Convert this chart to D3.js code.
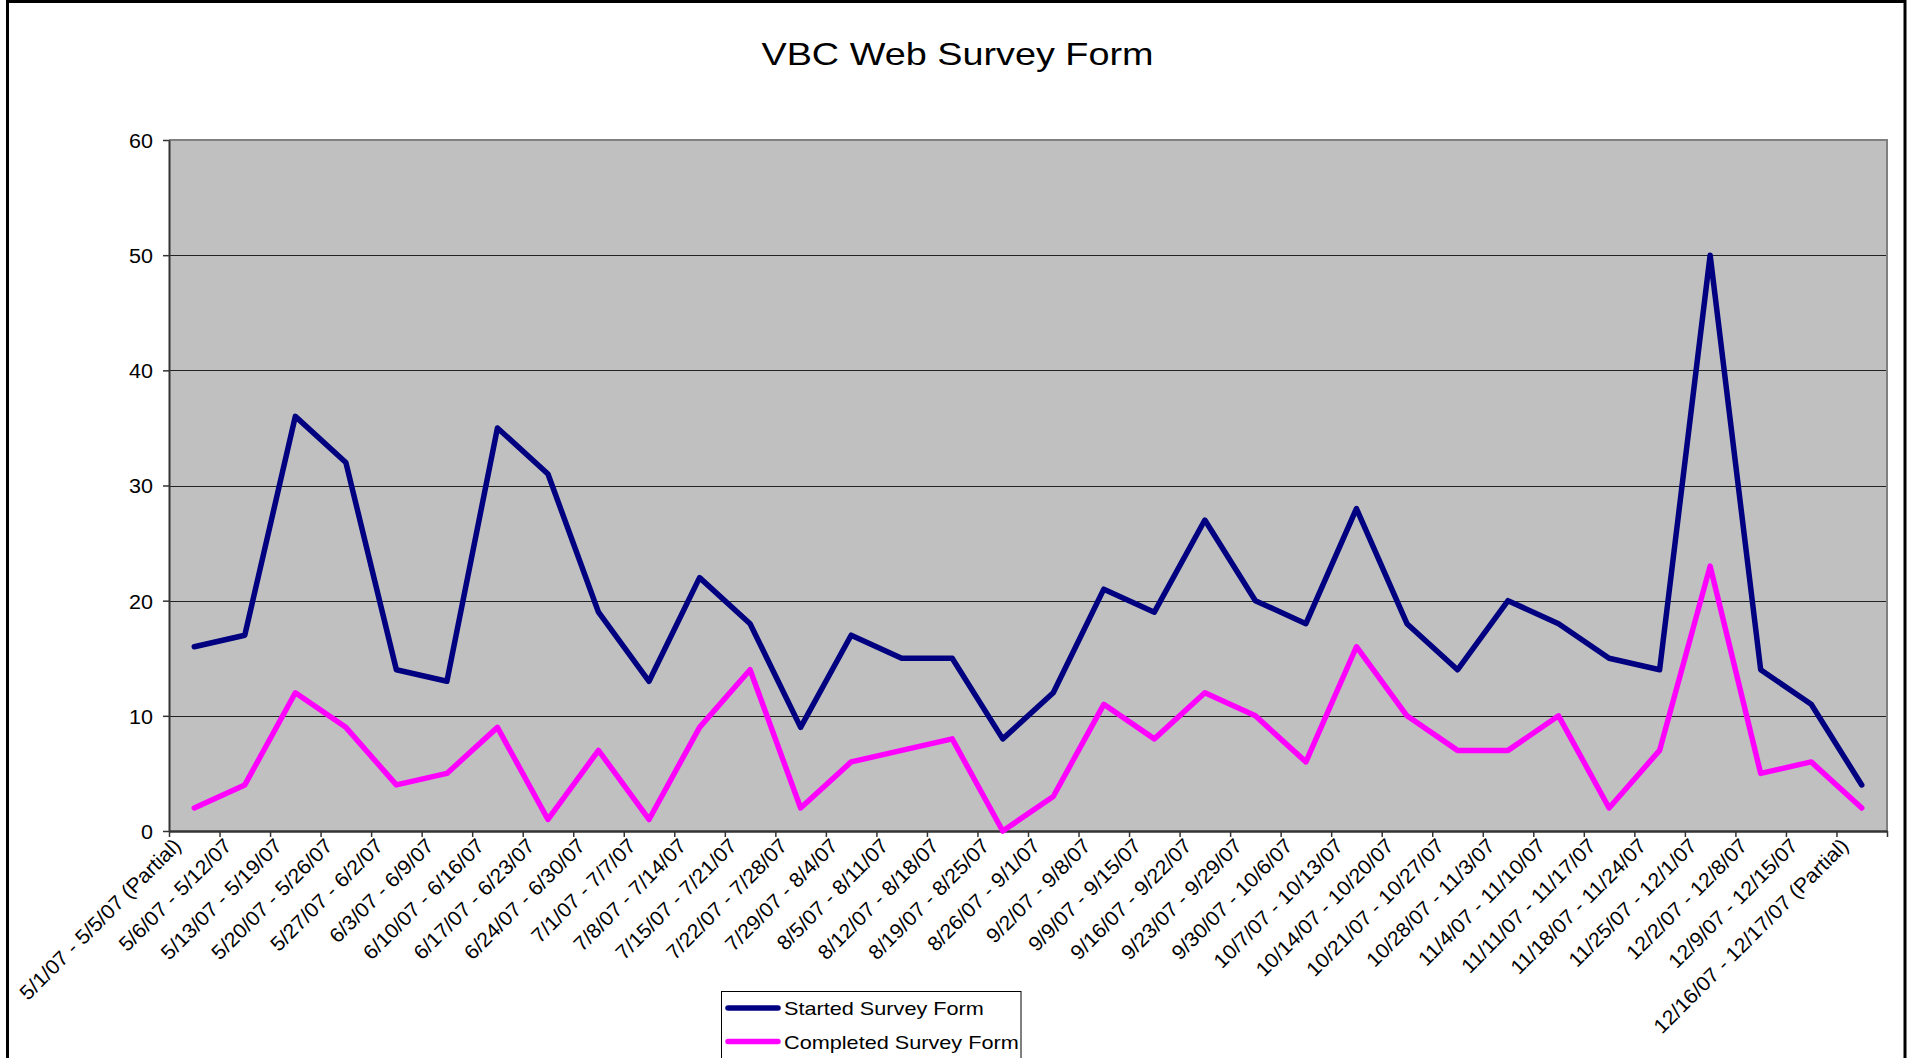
<!DOCTYPE html>
<html>
<head>
<meta charset="utf-8">
<script src="https://cdn.jsdelivr.net/npm/d3@7"></script>
<style>
  html, body { margin: 0; padding: 0; background: #fff; }
  svg { display: block; }
  text { font-family: "Liberation Sans", Arial, sans-serif; fill: #000; }
</style>
</head>
<body>
<svg id="chart" width="1909" height="1058"></svg>
<script>
const title = "VBC Web Survey Form";
const categories = [
  "5/1/07 - 5/5/07 (Partial)", "5/6/07 - 5/12/07", "5/13/07 - 5/19/07", "5/20/07 - 5/26/07",
  "5/27/07 - 6/2/07", "6/3/07 - 6/9/07", "6/10/07 - 6/16/07", "6/17/07 - 6/23/07",
  "6/24/07 - 6/30/07", "7/1/07 - 7/7/07", "7/8/07 - 7/14/07", "7/15/07 - 7/21/07",
  "7/22/07 - 7/28/07", "7/29/07 - 8/4/07", "8/5/07 - 8/11/07", "8/12/07 - 8/18/07",
  "8/19/07 - 8/25/07", "8/26/07 - 9/1/07", "9/2/07 - 9/8/07", "9/9/07 - 9/15/07",
  "9/16/07 - 9/22/07", "9/23/07 - 9/29/07", "9/30/07 - 10/6/07", "10/7/07 - 10/13/07",
  "10/14/07 - 10/20/07", "10/21/07 - 10/27/07", "10/28/07 - 11/3/07", "11/4/07 - 11/10/07",
  "11/11/07 - 11/17/07", "11/18/07 - 11/24/07", "11/25/07 - 12/1/07", "12/2/07 - 12/8/07",
  "12/9/07 - 12/15/07", "12/16/07 - 12/17/07 (Partial)"
];
const startedName = "Started Survey Form";
const startedValues = [16, 17, 36, 32, 14, 13, 35, 31, 19, 13, 22, 18, 9, 17, 15, 15, 8, 12, 21, 19,
  27, 20, 18, 28, 18, 14, 20, 18, 15, 14, 50, 14, 11, 4];
const completedName = "Completed Survey Form";
const completedValues = [2, 4, 12, 9, 4, 5, 9, 1, 7, 1, 9, 14, 2, 6, 7, 8, 0, 3, 11, 8,
  12, 10, 6, 16, 10, 7, 7, 10, 2, 7, 23, 5, 6, 2];
const yTicks = [0, 10, 20, 30, 40, 50, 60];

const svg = d3.select("#chart");
const plot = { left: 169, right: 1887, top: 140, bottom: 831 };

// outer frame
svg.append("rect").attr("x", 7.5).attr("y", 1.5).attr("width", 1897.5).attr("height", 1100)
  .attr("fill", "none").attr("stroke", "#000").attr("stroke-width", 3);

// stretched text helper (original rendering is horizontally widened)
function stretch(sel, k) {
  sel.each(function () {
    const w = this.getComputedTextLength();
    d3.select(this).attr("textLength", w * k).attr("lengthAdjust", "spacingAndGlyphs");
  });
}

// title
svg.append("text").attr("x", 957.5).attr("y", 64.5).attr("text-anchor", "middle")
  .style("font-size", "31.5px").text(title).call(stretch, 1.2);

const x = d3.scaleBand().domain(categories).range([plot.left, plot.right]).padding(0);
const xb = d3.scaleLinear().domain([0, categories.length]).range([plot.left, plot.right]);
const y = d3.scaleLinear().domain([0, 60]).range([plot.bottom, plot.top]);

// plot background
svg.append("rect").attr("x", plot.left).attr("y", plot.top)
  .attr("width", plot.right - plot.left).attr("height", plot.bottom - plot.top)
  .attr("fill", "#c0c0c0");

// gridlines
svg.append("g").selectAll("line").data(yTicks.filter(d => d > 0 && d < 60)).join("line")
  .attr("x1", plot.left).attr("x2", plot.right)
  .attr("y1", d => Math.round(y(d)) + 0.5).attr("y2", d => Math.round(y(d)) + 0.5)
  .attr("stroke", "#222").attr("stroke-width", 1.2);

// plot border top/right
svg.append("path")
  .attr("d", `M${plot.left},${plot.top}H${plot.right}V${plot.bottom}`)
  .attr("fill", "none").attr("stroke", "#808080").attr("stroke-width", 2);

// y axis
const yAxis = svg.append("g").attr("transform", `translate(${plot.left},0)`)
  .call(d3.axisLeft(y).tickValues(yTicks).tickSize(6).tickSizeOuter(0).tickPadding(10));
yAxis.select(".domain").attr("stroke", "#333").attr("stroke-width", 2);
yAxis.selectAll(".tick line").attr("stroke", "#333").attr("stroke-width", 1.5);
yAxis.selectAll(".tick text").style("font-size", "20.5px").attr("font-family", null)
  .attr("dy", "0.36em").call(stretch, 1.05);

// x axis (ticks between categories)
const xAxis = svg.append("g").attr("transform", `translate(0,${plot.bottom})`)
  .call(d3.axisBottom(xb).tickValues(d3.range(categories.length + 1)).tickFormat("")
    .tickSize(6).tickSizeOuter(0));
xAxis.select(".domain").attr("stroke", "#333").attr("stroke-width", 2.5);
xAxis.selectAll(".tick line").attr("stroke", "#333").attr("stroke-width", 1.5);

// x labels rotated
svg.append("g").selectAll("text").data(categories).join("text")
  .attr("transform", d => `translate(${x(d) + x.bandwidth() / 2 - 12},${plot.bottom + 16}) rotate(-45)`)
  .attr("text-anchor", "end")
  .style("font-size", "20.5px")
  .text(d => d)
  .call(stretch, 1.04);

// lines
const line = d3.line().x((d, i) => x(categories[i]) + x.bandwidth() / 2).y(d => y(d));
svg.append("path").datum(startedValues).attr("d", line)
  .attr("fill", "none").attr("stroke", "#000080").attr("stroke-width", 5.5)
  .attr("stroke-linejoin", "round").attr("stroke-linecap", "round");
svg.append("path").datum(completedValues).attr("d", line)
  .attr("fill", "none").attr("stroke", "#ff00ff").attr("stroke-width", 5.5)
  .attr("stroke-linejoin", "round").attr("stroke-linecap", "round");

// legend
const lg = svg.append("g");
lg.append("rect").attr("x", 721.5).attr("y", 991.5).attr("width", 299.5).attr("height", 100)
  .attr("fill", "#fff").attr("stroke", "#000").attr("stroke-width", 1);
const items = [
  { name: startedName, color: "#000080" },
  { name: completedName, color: "#ff00ff" }
];
items.forEach((it, i) => {
  const cy = 1008 + i * 33.5;
  lg.append("line").attr("x1", 728).attr("x2", 778).attr("y1", cy).attr("y2", cy)
    .attr("stroke", it.color).attr("stroke-width", 5.5).attr("stroke-linecap", "round");
  lg.append("text").attr("x", 784).attr("y", cy + 7).style("font-size", "18.6px")
    .text(it.name).call(stretch, 1.165);
});
</script>
</body>
</html>
